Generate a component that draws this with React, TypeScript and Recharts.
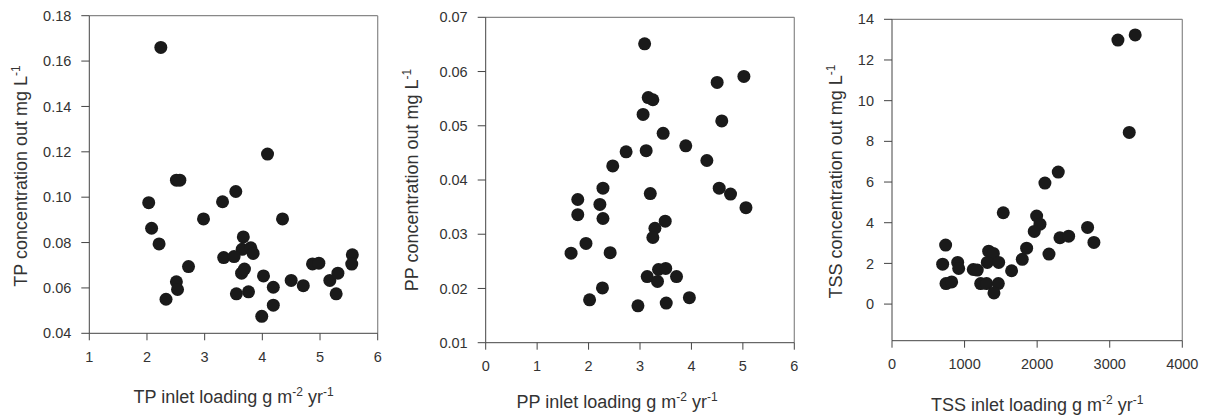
import React from 'react';
import { ReferenceLine, Scatter, ScatterChart, XAxis, YAxis } from 'recharts';

// TP panel
const tpInlet = [2.24, 4.09, 2.51, 2.57, 3.54, 3.31, 2.03, 2.98, 4.35, 2.08, 2.21, 3.67, 3.65, 3.8, 3.84, 3.33, 3.51, 2.72, 3.64, 3.69, 2.51, 2.53, 2.33, 3.55, 3.76, 4.02, 4.19, 4.19, 3.99, 4.5, 4.71, 4.87, 4.98, 5.17, 5.31, 5.28, 5.56, 5.55];
const tpOut = [0.166, 0.119, 0.1075, 0.1075, 0.1025, 0.098, 0.0976, 0.0904, 0.0904, 0.0863, 0.0794, 0.0825, 0.077, 0.0777, 0.0752, 0.0734, 0.0738, 0.0694, 0.0665, 0.0683, 0.0627, 0.0593, 0.055, 0.0574, 0.0583, 0.0653, 0.0603, 0.0524, 0.0475, 0.0633, 0.061, 0.0706, 0.0709, 0.0633, 0.0665, 0.0574, 0.0746, 0.0705];

// PP panel
const ppInlet = [3.09, 5.02, 4.5, 3.16, 3.25, 3.06, 4.59, 3.45, 3.89, 2.73, 3.12, 4.3, 2.47, 2.28, 4.54, 4.76, 3.2, 5.06, 1.79, 1.79, 2.22, 2.28, 3.49, 3.29, 3.25, 1.95, 1.66, 2.42, 3.36, 3.5, 3.14, 3.71, 3.34, 2.27, 2.02, 3.96, 2.96, 3.51];
const ppOut = [0.0651, 0.0591, 0.058, 0.0552, 0.0548, 0.0521, 0.0509, 0.0486, 0.0463, 0.0452, 0.0454, 0.0436, 0.0426, 0.0385, 0.0385, 0.0374, 0.0375, 0.0349, 0.0364, 0.0336, 0.0355, 0.0329, 0.0324, 0.0311, 0.0294, 0.0283, 0.0265, 0.0266, 0.0235, 0.0237, 0.0222, 0.0222, 0.0213, 0.0201, 0.0179, 0.0183, 0.0168, 0.0173];

// TSS panel
const tssInlet = [3351, 3113, 3269, 2291, 2107, 1533, 1993, 2039, 1960, 2695, 2782, 2314, 2434, 2163, 1855, 1795, 1648, 739, 698, 905, 919, 744, 822, 1120, 1175, 1222, 1304, 1465, 1405, 1332, 1396, 1313, 1470];
const tssOut = [13.23, 12.98, 8.44, 6.49, 5.95, 4.49, 4.33, 3.93, 3.57, 3.77, 3.03, 3.26, 3.34, 2.46, 2.75, 2.2, 1.64, 2.9, 1.96, 2.05, 1.75, 1.01, 1.09, 1.7, 1.67, 1.01, 1.01, 1.01, 0.55, 2.6, 2.49, 2.05, 2.05];

const tpXTicks = [1, 2, 3, 4, 5, 6];
const tpYTicks = [0.04, 0.06, 0.08, 0.1, 0.12, 0.14, 0.16, 0.18];
const ppXTicks = [0, 1, 2, 3, 4, 5, 6];
const ppYTicks = [0.01, 0.02, 0.03, 0.04, 0.05, 0.06, 0.07];
const tssXTicks = [0, 1000, 2000, 3000, 4000];
const tssYTicks = [0, 2, 4, 6, 8, 10, 12, 14];

const FONT = '"Liberation Sans", Arial, sans-serif';
const TEXT = '#333';

const dot = (props: any) => <circle cx={props.cx} cy={props.cy} r={6.5} fill="#1a1a1a" />;

const xTitle = (prefix: string, dx: number, dy: number) => (props: any) => {
  const vb = props.viewBox;
  return (
    <text x={vb.x + vb.width / 2 + dx} y={vb.y + dy} textAnchor="middle" fontSize={18} fill={TEXT} fontFamily={FONT}>
      {prefix} inlet loading g m
      <tspan dy={-7} fontSize={12}>-2</tspan>
      <tspan dy={7}> yr</tspan>
      <tspan dy={-7} fontSize={12}>-1</tspan>
    </text>
  );
};

const yTitle = (prefix: string, bx: number, dy: number) => (props: any) => {
  const vb = props.viewBox;
  const cy = vb.y + vb.height / 2 + dy;
  return (
    <text x={bx} y={cy} transform={`rotate(-90, ${bx}, ${cy})`} textAnchor="middle" fontSize={18} fill={TEXT} fontFamily={FONT}>
      {prefix} concentration out mg L
      <tspan dy={-7} fontSize={12}>-1</tspan>
    </text>
  );
};

type PanelProps = {
  left: number;
  width: number;
  margin: { top: number; right: number; bottom: number; left: number };
  xs: number[];
  ys: number[];
  xDomain: [number, number];
  yDomain: [number, number];
  xTicks: number[];
  yTicks: number[];
  yFmt: (v: number) => string;
  prefix: string;
  xTitleDx: number;
  xTitleDy: number;
  yTitleX: number;
  yTitleDy: number;
};

const Panel = (p: PanelProps) => {
  const data = p.xs.map((x, i) => ({ x, y: p.ys[i] }));
  return (
    <div style={{ position: 'absolute', left: p.left, top: 0 }}>
      <ScatterChart width={p.width} height={418} margin={p.margin} style={{ fontFamily: FONT }}>
        <XAxis
          type="number"
          dataKey="x"
          domain={p.xDomain}
          ticks={p.xTicks}
          allowDataOverflow
          height={60}
          tickSize={7}
          tickMargin={11}
          stroke="#444"
          tick={{ fill: TEXT, fontSize: 14.5 }}
          label={{ content: xTitle(p.prefix, p.xTitleDx, p.xTitleDy) }}
        />
        <YAxis
          type="number"
          dataKey="y"
          domain={p.yDomain}
          ticks={p.yTicks}
          allowDataOverflow
          width={80}
          tickSize={8}
          tickMargin={10}
          stroke="#444"
          tick={{ fill: TEXT, fontSize: 14.5 }}
          tickFormatter={p.yFmt}
          label={{ content: yTitle(p.prefix, p.yTitleX, p.yTitleDy) }}
        />
        <ReferenceLine y={p.yDomain[1]} stroke="#888" strokeWidth={1.2} />
        <ReferenceLine x={p.xDomain[1]} stroke="#888" strokeWidth={1.2} />
        <Scatter data={data} shape={dot} isAnimationActive={false} />
      </ScatterChart>
    </div>
  );
};

export default function App() {
  return (
    <div style={{ position: 'absolute', left: 0, top: 0, width: 1206, height: 418, background: '#fff' }}>
      <Panel
        left={0}
        width={400}
        margin={{ top: 15.7, right: 22.3, bottom: 24.7, left: 9.3 }}
        xs={tpInlet}
        ys={tpOut}
        xDomain={[1, 6]}
        yDomain={[0.04, 0.18]}
        xTicks={tpXTicks}
        yTicks={tpYTicks}
        yFmt={(v) => v.toFixed(2)}
        prefix="TP"
        xTitleDx={0}
        xTitleDy={69.4}
        yTitleX={26.7}
        yTitleDy={1.5}
      />
      <Panel
        left={400}
        width={410}
        margin={{ top: 17.3, right: 15.7, bottom: 15.3, left: 5.7 }}
        xs={ppInlet}
        ys={ppOut}
        xDomain={[0, 6]}
        yDomain={[0.01, 0.07]}
        xTicks={ppXTicks}
        yTicks={ppYTicks}
        yFmt={(v) => v.toFixed(2)}
        prefix="PP"
        xTitleDx={-23}
        xTitleDy={65.6}
        yTitleX={18.3}
        yTitleDy={0}
      />
      <Panel
        left={810}
        width={396}
        margin={{ top: 19.3, right: 23.7, bottom: 17.3, left: 2 }}
        xs={tssInlet}
        ys={tssOut}
        xDomain={[0, 4000]}
        yDomain={[-1.8, 14]}
        xTicks={tssXTicks}
        yTicks={tssYTicks}
        yFmt={(v) => String(v)}
        prefix="TSS"
        xTitleDx={0}
        xTitleDy={70}
        yTitleX={31.7}
        yTitleDy={1.5}
      />
    </div>
  );
}
